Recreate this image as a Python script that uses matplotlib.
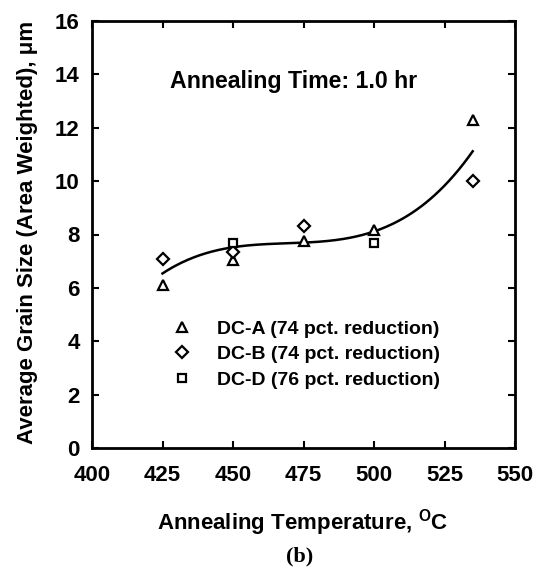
import numpy as np
import matplotlib
matplotlib.use("Agg")
import matplotlib.pyplot as plt

plt.rcParams['font.family'] = ['Liberation Sans', 'DejaVu Sans']
plt.rcParams['font.weight'] = 'bold'
plt.rcParams['mathtext.fontset'] = 'custom'
plt.rcParams['mathtext.rm'] = 'Liberation Sans:bold'
plt.rcParams['mathtext.it'] = 'Liberation Sans:bold'
plt.rcParams['mathtext.bf'] = 'Liberation Sans:bold'

# Data
temp_A = [425, 450, 475, 500, 535]
size_A = [6.1, 7.05, 7.75, 8.15, 12.3]
temp_B = [425, 450, 475, 535]
size_B = [7.1, 7.35, 8.3, 10.0]
temp_D = [450, 500]
size_D = [7.7, 7.7]

labels = ["DC-A (74 pct. reduction)", "DC-B (74 pct. reduction)", "DC-D (76 pct. reduction)"]
xticks = [400, 425, 450, 475, 500, 525, 550]
yticks = [0, 2, 4, 6, 8, 10, 12, 14, 16]

W, H = 545, 570
fig = plt.figure(figsize=(W / 100, H / 100), dpi=100)
L, R, T, B = 92, 515, 21, 448
ax = fig.add_axes([L / W, 1 - B / H, (R - L) / W, (B - T) / H])

# cubic trend line fitted to all data
all_t = np.array(temp_A + temp_B + temp_D, dtype=float)
all_s = np.array(size_A + size_B + size_D, dtype=float)
coef = np.polyfit(all_t, all_s, 3)
tt = np.linspace(425, 535, 200)
ax.plot(tt, np.polyval(coef, tt), color='black', lw=1.8)

mk = dict(linestyle='none', mfc='white', mec='black', mew=1.6)
ax.plot(temp_A, size_A, marker='^', ms=7, label=labels[0], **mk)
ax.plot(temp_B, size_B, marker='D', ms=6, label=labels[1], **mk)
ax.plot(temp_D, size_D, marker='s', ms=6, label=labels[2], **mk)

ax.set_xlim(400, 550)
ax.set_ylim(0, 16)
ax.set_xticks(xticks)
ax.set_yticks(yticks)
ax.tick_params(direction='in', length=5, width=1.5, top=True, right=True,
               labelsize=16)
ax.tick_params(axis='x', pad=12)
ax.tick_params(axis='y', pad=9)
for s in ax.spines.values():
    s.set_linewidth(2)

ax.text(0.185, 0.859, "Annealing Time: 1.0 hr", transform=ax.transAxes,
        fontsize=16.7, fontweight='bold', va='center', ha='left')

leg = ax.legend(loc='upper left', bbox_to_anchor=(0.172, 0.318), frameon=False,
                fontsize=14, handletextpad=1.3, labelspacing=0.41,
                borderaxespad=0, handlelength=1.0)

fig.text(28 / W, 1 - 232 / H, "Average Grain Size (Area Weighted), \u03bcm",
         rotation=90, ha='center', va='center', fontsize=16, fontweight='bold')
fig.text(303 / W, 1 - 523 / H, r"Annealing Temperature, $^{\mathrm{O}}$C",
         ha='center', va='center', fontsize=16, fontweight='bold')
fig.text(300 / W, 1 - 556 / H, "(b)", ha='center', va='center', fontsize=16,
         fontweight='bold', family=['Liberation Serif', 'DejaVu Serif'])

fig.savefig("out.png", dpi=100)
